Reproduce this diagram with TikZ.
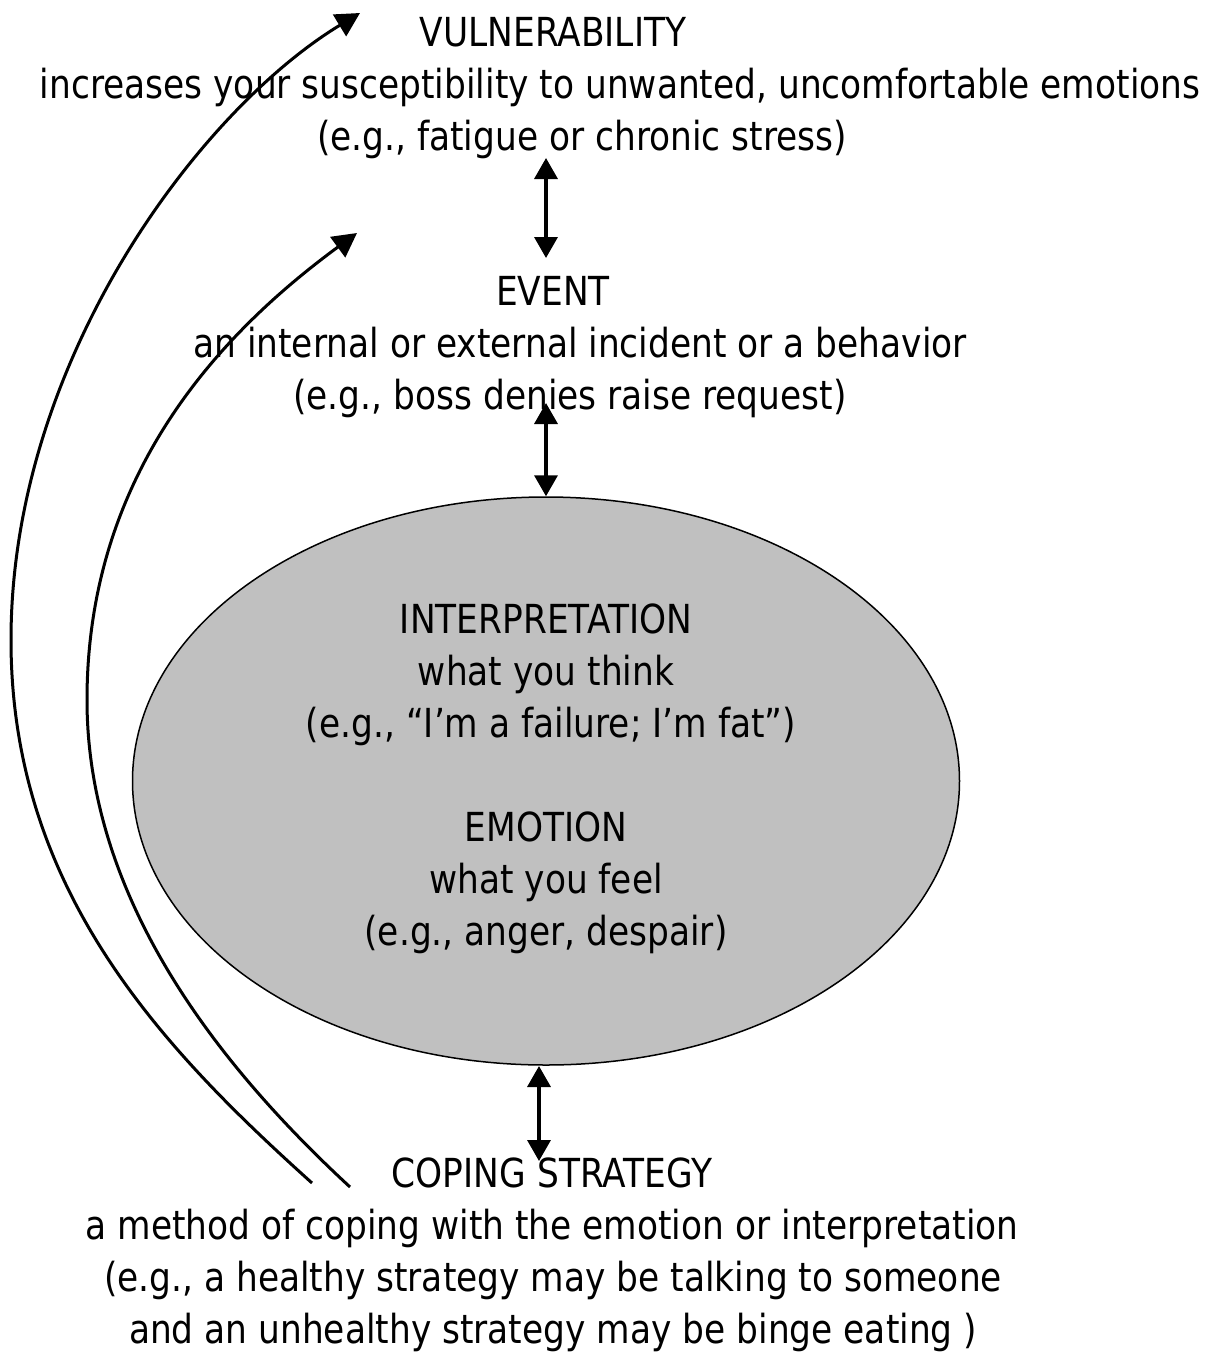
\documentclass[tikz,border=0pt]{standalone}
\usepackage{fontspec}
\setmainfont{DejaVu Sans}[FakeStretch=0.86]
\usetikzlibrary{arrows.meta,shapes.geometric}
\definecolor{coregray}{RGB}{192,192,192}
\begin{document}
\begin{tikzpicture}[x=1pt,y=-1pt,
  txt/.style={anchor=base,inner sep=0pt,font=\fontsize{40}{52}\selectfont},
  dbl/.style={line width=3.5pt,{Triangle[length=21pt,width=23pt]}-{Triangle[length=21pt,width=23pt]}},
  loopback/.style={line width=3pt,-{Triangle[length=24pt,width=25pt]}}
  ]
\useasboundingbox (0,0) rectangle (1215,1353);

% core ellipse
\node[ellipse,draw,fill=coregray,line width=1.5pt,minimum width=827pt,minimum height=568pt,inner sep=0pt] (core) at (546,781) {};

% VULNERABILITY
\node[txt] (v1) at (553,46) {VULNERABILITY};
\node[txt] (v2) at (620,98) {increases your susceptibility to unwanted, uncomfortable emotions};
\node[txt] (v3) at (582,150) {(e.g., fatigue or chronic stress)};

% EVENT
\node[txt] (e1) at (553,305) {EVENT};
\node[txt] (e2) at (580,357) {an internal or external incident or a behavior};
\node[txt] (e3) at (570,409) {(e.g., boss denies raise request)};

% INTERPRETATION / EMOTION
\node[txt] (i1) at (546,633) {INTERPRETATION};
\node[txt] (i2) at (546,685) {what you think};
\node[txt] (i3) at (551,737) {(e.g., “I’m a failure; I’m fat”)};
\node[txt] (m1) at (546,841) {EMOTION};
\node[txt] (m2) at (546,893) {what you feel};
\node[txt] (m3) at (546,945) {(e.g., anger, despair)};

% COPING STRATEGY
\node[txt] (c1) at (552,1187) {COPING STRATEGY};
\node[txt] (c2) at (552,1239) {a method of coping with the emotion or interpretation};
\node[txt] (c3) at (553,1291) {(e.g., a healthy strategy may be talking to someone};
\node[txt] (c4) at (553,1343) {and an unhealthy strategy may be binge eating )};

% connector end points
\coordinate (vb) at (546,158);
\coordinate (et) at (546,258);
\coordinate (eb) at (546,403);
\coordinate (kb) at (539,1066);
\coordinate (ct) at (539,1161);
\coordinate (o0) at (312,1183);
\coordinate (om) at (11,640);
\coordinate (o1) at (360,13);
\coordinate (n0) at (350,1187);
\coordinate (nm) at (87,700);
\coordinate (n1) at (357,233);

\draw[dbl] (vb) -- (et);
\draw[dbl] (eb) -- (core.north);
\draw[dbl] (kb) -- (ct);

\draw[loopback] (o0) .. controls (162,1048) and (11,890) .. (om)
                     .. controls (11,360) and (200,110) .. (o1);
\draw[loopback] (n0) .. controls (220,1067) and (87,900) .. (nm)
                     .. controls (87,470) and (225,330) .. (n1);
\end{tikzpicture}
\end{document}
